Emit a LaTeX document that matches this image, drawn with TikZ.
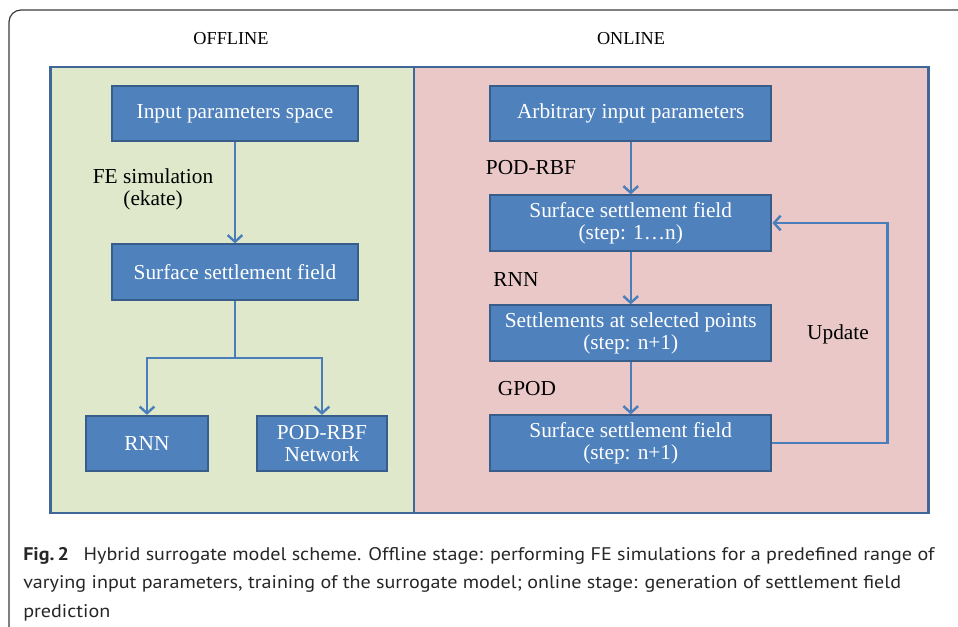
\documentclass[tikz,border=0pt]{standalone}
\usepackage{fontspec}
\setmainfont{Liberation Serif}
\newfontfamily\capfont[FakeStretch=1.1]{PT Sans}
\usetikzlibrary{arrows.meta}

\definecolor{boxfill}{HTML}{4F81BD}
\definecolor{boxline}{HTML}{385D8A}
\definecolor{flowline}{HTML}{4A7EBB}
\definecolor{panelline}{HTML}{3F6797}
\definecolor{offbg}{HTML}{DFE8CB}
\definecolor{onbg}{HTML}{E9C8C7}
\definecolor{framegray}{HTML}{3A3A3A}

\tikzset{
  procbox/.style={draw=boxline, line width=1.4pt, fill=boxfill, text=white,
    font=\fontsize{16pt}{19pt}\selectfont, align=center, inner sep=0pt,
    minimum height=41.5pt},
  flow/.style={draw=flowline, line width=1.8pt,
    -{Straight Barb[length=5pt,width=11pt,line width=1.8pt]}},
  flowplain/.style={draw=flowline, line width=1.8pt},
  steplabel/.style={font=\fontsize{16pt}{16.5pt}\selectfont, align=center, inner sep=0pt},
  stagelabel/.style={font=\fontsize{13.7pt}{16pt}\selectfont, inner sep=0pt},
  capline/.style={anchor=base west, inner sep=0pt, font=\capfont\fontsize{13.7pt}{15pt}\selectfont, text=black!85}
}

\begin{document}
\begin{tikzpicture}[x=0.75pt,y=-0.75pt]
  \useasboundingbox (0,0) rectangle (958,627);

  % outer figure frame
  \begin{scope}
    \clip (0,0) rectangle (958,627);
    \draw[framegray, line width=0.9pt, rounded corners=9pt] (9,640) -- (9,10) -- (975,10);
  \end{scope}

  % stage headings
  \node[stagelabel] (offhead) at (231,39) {OFFLINE};
  \node[stagelabel] (onhead) at (631,39) {ONLINE};

  % stage panels
  \fill[offbg] (50.5,67) rectangle (414,513);
  \fill[onbg] (414,67) rectangle (928.5,513);
  \draw[panelline, line width=1.7pt] (50.5,67) rectangle (928.5,513);
  \draw[panelline, line width=1.7pt] (414,67) -- (414,513);

  % offline stage
  \node[procbox, minimum width=184.5pt] (inspace) at (235,113.5) {Input parameters space};
  \node[procbox, minimum width=184.5pt] (offfield) at (235,272) {Surface settlement field};
  \node[procbox, minimum width=91.5pt] (rnn) at (147,443.5) {RNN};
  \node[procbox, minimum width=97.5pt, font=\fontsize{16pt}{16.5pt}\selectfont] (podrbf) at (322,443.5) {POD-RBF\\Network};

  \draw[flow] (inspace) -- (offfield);
  \node[steplabel] (felabel) at (153,189) {FE simulation\\(ekate)};

  \coordinate (split) at (235,358);
  \draw[flowplain] (offfield.south) -- (split);
  \draw[flow] (split) -| (rnn.north);
  \draw[flow] (split) -| (podrbf.north);

  % online stage
  \node[procbox, minimum width=211pt] (arbin) at (630.75,113.5) {Arbitrary input parameters};
  \node[procbox, minimum width=211pt, font=\fontsize{16pt}{16.5pt}\selectfont] (field1) at (630.75,223) {Surface settlement field\\(step: 1\ldots n)};
  \node[procbox, minimum width=211pt, font=\fontsize{16pt}{16.5pt}\selectfont] (selpts) at (630.75,333) {Settlements at selected points\\(step: n+1)};
  \node[procbox, minimum width=211pt, font=\fontsize{16pt}{16.5pt}\selectfont] (field2) at (630.75,443) {Surface settlement field\\(step: n+1)};

  \draw[flow] (arbin) -- (field1);
  \draw[flow] (field1) -- (selpts);
  \draw[flow] (selpts) -- (field2);

  \node[steplabel] (podlabel) at (531,168) {POD-RBF};
  \node[steplabel] (rnnlabel) at (516,280) {RNN};
  \node[steplabel] (gpodlabel) at (527,389) {GPOD};

  \coordinate (loopbot) at (887.5,443);
  \coordinate (looptop) at (887.5,223);
  \draw[flow] (field2.east) -- (loopbot) -- (looptop) -- (field1.east);
  \node[steplabel] (updlabel) at (838,334) {Update};

  % caption
  \node[capline] (cap1) at (23,561) {\textbf{Fig.\,2}\hspace{11pt}Hybrid surrogate model scheme. Offline stage: performing FE simulations for a predefined range of};
  \node[capline] (cap2) at (23,589) {varying input parameters, training of the surrogate model; online stage: generation of settlement field};
  \node[capline] (cap3) at (23,617) {prediction};
\end{tikzpicture}
\end{document}
